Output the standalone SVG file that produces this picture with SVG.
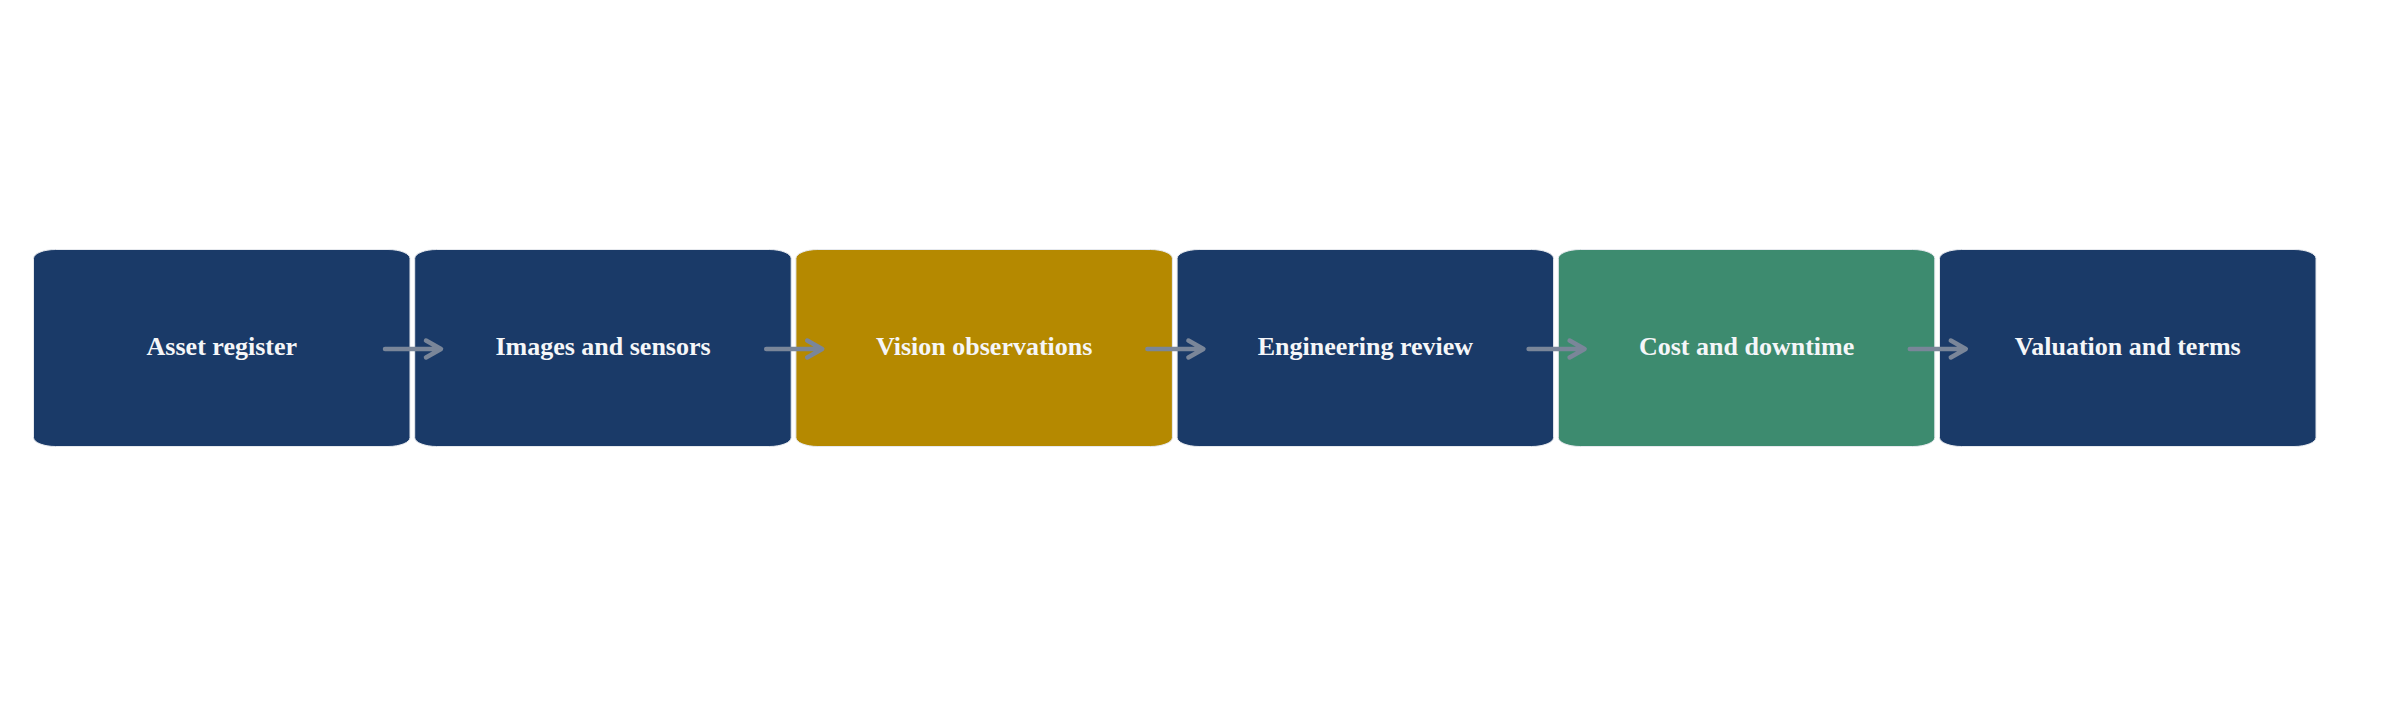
<svg xmlns="http://www.w3.org/2000/svg" width="2398" height="704" viewBox="0 0 2398 704">
<style>
.box{stroke:#e6e9ee;stroke-width:1}
.navy{fill:#1a3a68}
.gold{fill:#b58900}
.green{fill:#3d8b6f}
.lbl{font-family:"Liberation Serif","Times New Roman",serif;font-weight:bold;font-size:26px;fill:#f5f6f8;text-anchor:middle}
.conn{stroke:#7a8699;stroke-width:4.5;fill:none;stroke-linecap:round;stroke-linejoin:round}
</style>
<rect width="2398" height="704" fill="#ffffff"/>
<g id="n1"><rect class="box navy" x="33.5" y="249.5" width="376.5" height="197" rx="22" ry="9"/><text class="lbl" x="221.8" y="354.5">Asset register</text></g>
<g id="n2"><rect class="box navy" x="414.7" y="249.5" width="376.5" height="197" rx="22" ry="9"/><text class="lbl" x="603" y="354.5">Images and sensors</text></g>
<g id="n3"><rect class="box gold" x="795.9" y="249.5" width="376.5" height="197" rx="22" ry="9"/><text class="lbl" x="984.2" y="354.5">Vision observations</text></g>
<g id="n4"><rect class="box navy" x="1177.1" y="249.5" width="376.5" height="197" rx="22" ry="9"/><text class="lbl" x="1365.4" y="354.5">Engineering review</text></g>
<g id="n5"><rect class="box green" x="1558.3" y="249.5" width="376.5" height="197" rx="22" ry="9"/><text class="lbl" x="1746.6" y="354.5">Cost and downtime</text></g>
<g id="n6"><rect class="box navy" x="1939.5" y="249.5" width="376.5" height="197" rx="22" ry="9"/><text class="lbl" x="2127.8" y="354.5">Valuation and terms</text></g>
<g id="connectors">
<path class="conn" d="M385,349 H440 M426,340.5 L441,349 L426,357.5"/>
<path class="conn" d="M766.2,349 H821.2 M807.2,340.5 L822.2,349 L807.2,357.5"/>
<path class="conn" d="M1147.4,349 H1202.4 M1188.4,340.5 L1203.4,349 L1188.4,357.5"/>
<path class="conn" d="M1528.6,349 H1583.6 M1569.6,340.5 L1584.6,349 L1569.6,357.5"/>
<path class="conn" d="M1909.8,349 H1964.8 M1950.8,340.5 L1965.8,349 L1950.8,357.5"/>
</g>
</svg>
